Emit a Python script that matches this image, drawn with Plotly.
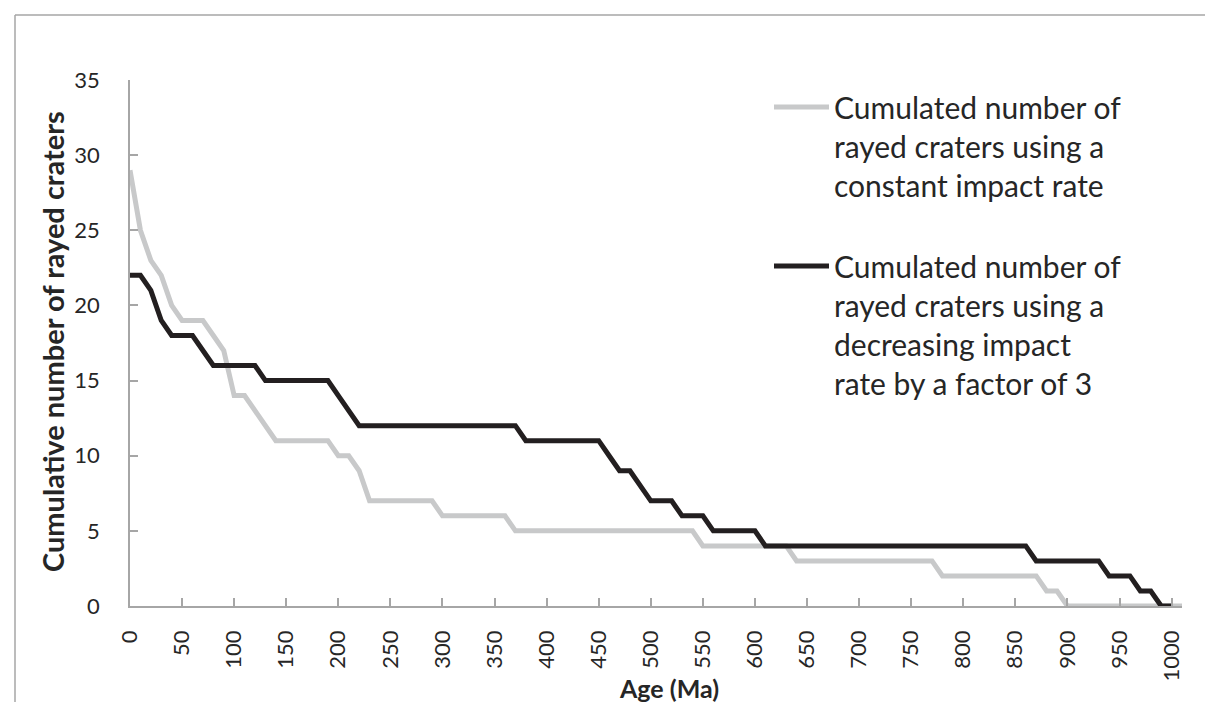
import plotly.graph_objects as go

# Age (Ma) categories
age = list(range(0, 1020, 10))  # 0..1010

constant_rate = (
    [29, 25, 23, 22, 20, 19, 19, 19, 18, 17,      # 0-90
     14, 14, 13, 12, 11, 11, 11, 11, 11, 11,      # 100-190
     10, 10, 9, 7, 7, 7, 7, 7, 7, 7,              # 200-290
     6, 6, 6, 6, 6, 6, 6, 5, 5, 5,                # 300-390
     5, 5, 5, 5, 5, 5, 5, 5, 5, 5,                # 400-490
     5, 5, 5, 5, 5, 4, 4, 4, 4, 4,                # 500-590
     4, 4, 4, 4, 3, 3, 3, 3, 3, 3,                # 600-690
     3, 3, 3, 3, 3, 3, 3, 3, 2, 2,                # 700-790
     2, 2, 2, 2, 2, 2, 2, 2, 1, 1,                # 800-890
     0, 0, 0, 0, 0, 0, 0, 0, 0, 0,                # 900-990
     0, 0]                                        # 1000-1010
)

decreasing_rate = (
    [22, 22, 21, 19, 18, 18, 18, 17, 16, 16,      # 0-90
     16, 16, 16, 15, 15, 15, 15, 15, 15, 15,      # 100-190
     14, 13, 12, 12, 12, 12, 12, 12, 12, 12,      # 200-290
     12, 12, 12, 12, 12, 12, 12, 12, 11, 11,      # 300-390
     11, 11, 11, 11, 11, 11, 10, 9, 9, 8,         # 400-490
     7, 7, 7, 6, 6, 6, 5, 5, 5, 5,                # 500-590
     5, 4, 4, 4, 4, 4, 4, 4, 4, 4,                # 600-690
     4, 4, 4, 4, 4, 4, 4, 4, 4, 4,                # 700-790
     4, 4, 4, 4, 4, 4, 4, 3, 3, 3,                # 800-890
     3, 3, 3, 3, 2, 2, 2, 1, 1, 0,                # 900-990
     0]                                           # 1000
)

x_ticks = list(range(0, 1001, 50))
y_ticks = list(range(0, 36, 5))

name_constant = "Cumulated number of<br>rayed craters using a<br>constant impact rate<br> "
name_decreasing = "Cumulated number of<br>rayed craters using a<br>decreasing impact<br>rate by a factor of 3"

FONT = "Lato"
TXT = "#262626"
AX = "#a6a6a6"

fig = go.Figure()
fig.add_trace(go.Scatter(x=age, y=constant_rate, mode="lines", name=name_constant,
                         line=dict(color="#c8c9ca", width=5)))
fig.add_trace(go.Scatter(x=age[:len(decreasing_rate)], y=decreasing_rate, mode="lines",
                         name=name_decreasing, line=dict(color="#231f20", width=5)))

W, H = 1213, 702
L, R, T, B = 122, 1174, 72, 598
pw, ph = R - L, B - T

def px(xp):
    return (xp - L) / pw

def py(yp):
    return (B - yp) / ph

fig.update_layout(
    width=W, height=H,
    margin=dict(l=L, r=W - R, t=T, b=H - B),
    paper_bgcolor="white", plot_bgcolor="white",
    font=dict(family=FONT, color=TXT),
    showlegend=True,
    legend=dict(x=px(761), y=py(73), xanchor="left", yanchor="top",
                font=dict(size=30, family=FONT, color=TXT),
                valign="top", bgcolor="rgba(0,0,0,0)", itemwidth=55,
                tracegroupgap=0),
    xaxis=dict(range=[0, 1010], tickvals=x_ticks, tickangle=-90,
               ticks="inside", ticklen=8, tickcolor=AX, tickwidth=1.5,
               showline=True, linecolor=AX, linewidth=1.5,
               showgrid=False, zeroline=False,
               tickfont=dict(size=22, family=FONT, color=TXT),
               ticklabelstandoff=14),
    yaxis=dict(range=[0, 35], tickvals=y_ticks,
               ticks="inside", ticklen=8, tickcolor=AX, tickwidth=1.5,
               showline=True, linecolor=AX, linewidth=1.5,
               showgrid=False, zeroline=False,
               tickfont=dict(size=22, family=FONT, color=TXT),
               ticklabelstandoff=24),
    annotations=[
        dict(text="<b>Age (Ma)</b>", xref="paper", yref="paper",
             x=px(661), y=py(680), xanchor="center", yanchor="middle", showarrow=False,
             font=dict(size=25, family=FONT, color=TXT)),
        dict(text="<b>Cumulative number of rayed craters</b>", xref="paper", yref="paper",
             x=px(44), y=py(334), xanchor="center", yanchor="middle",
             showarrow=False, textangle=-90,
             font=dict(size=29, family=FONT, color=TXT)),
    ],
    shapes=[
        dict(type="line", xref="paper", yref="paper", x0=px(7), x1=px(1210), y0=py(7), y1=py(7),
             line=dict(color=AX, width=1.5)),
        dict(type="line", xref="paper", yref="paper", x0=px(7), x1=px(7), y0=py(7), y1=py(702),
             line=dict(color=AX, width=1.5)),
    ],
)

fig.write_html("out.html")
